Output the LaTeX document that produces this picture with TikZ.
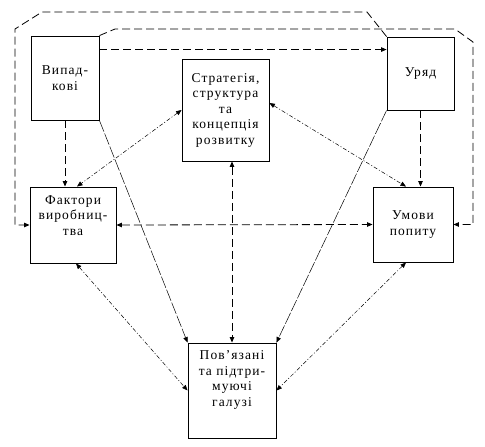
\documentclass[tikz,border=0pt]{standalone}
\usepackage{fontspec}
\setmainfont[LetterSpace=8]{Liberation Serif}
\usetikzlibrary{arrows.meta,calc}

\begin{document}
\begin{tikzpicture}[
  x=1pt, y=-1pt,
  >={Triangle[length=5.5pt,width=4.5pt]},
  factorbox/.style={
    rectangle, draw, line width=0.9pt, fill=white, align=center,
    inner sep=0pt, font=\fontsize{13.5}{15.5}\selectfont
  },
  longdash/.style={line width=0.8pt, dash pattern=on 8pt off 4pt},
  finedash/.style={line width=0.5pt, dash pattern=on 4pt off 2pt on 1pt off 2pt},
  thindash/.style={line width=0.5pt, dash pattern=on 12pt off 2pt}
]
\useasboundingbox (0,0) rectangle (485,447);

% boxes
\node[factorbox, minimum width=68pt, minimum height=84pt] (vyp) at (65,78) {Випад-\\кові};
\node[factorbox, minimum width=87pt, minimum height=102pt] (strat) at (225.5,110)
  {Стратегія,\\структура\\та\\концепція\\розвитку};
\node[factorbox, minimum width=67pt, minimum height=73pt] (uriad) at (420.5,73.5) {Уряд};
\node[factorbox, minimum width=86pt, minimum height=76pt] (faktor) at (73,225)
  {Фактори\\виробниц-\\тва\\[4pt]};
\node[factorbox, minimum width=80pt, minimum height=75pt] (umovy) at (413,224.5)
  {Умови\\попиту};
\node[factorbox, minimum width=88pt, minimum height=95pt] (galuzi) at (232,390.5)
  {Пов’язані\\та підтри-\\муючі\\галузі\\[8pt]};

% outer loops
\draw[longdash, ->] (uriad.north west) -- (367,12) -- (42,12) -- (15,29)
  -- (15,0 |- faktor.west) -- (faktor.west);
\draw[longdash, ->] (vyp.north east) -- (115,29) -- (455,29) -- (473,42)
  -- (473,0 |- umovy.east) -- (umovy.east);

% straight links
\draw[longdash, ->] ([yshift=-14pt]vyp.north east) -- ([yshift=-14pt]vyp.north east -| uriad.west);
\draw[longdash, ->] (vyp.south) -- (vyp.south |- faktor.north);
\draw[longdash, ->] (uriad.south) -- (uriad.south |- umovy.north);
\draw[longdash, <->] (faktor.east) -- (umovy.west);
\draw[longdash, <->] (strat.south -| galuzi.north) -- (galuzi.north);

% diagonal links
\draw[thindash, ->] (vyp.south east) -- (galuzi.north west);
\draw[thindash, ->] (uriad.south west) -- (galuzi.north east);
\draw[finedash, <->] (strat.west) -- ([xshift=4pt]faktor.north);
\draw[finedash, <->] ([yshift=7pt]strat.east) -- ([xshift=-7pt]umovy.north);
\draw[finedash, <->] ([xshift=3pt]faktor.south) -- (galuzi.west);
\draw[finedash, <->] ([xshift=-7pt]umovy.south) -- (galuzi.east);

\end{tikzpicture}
\end{document}
